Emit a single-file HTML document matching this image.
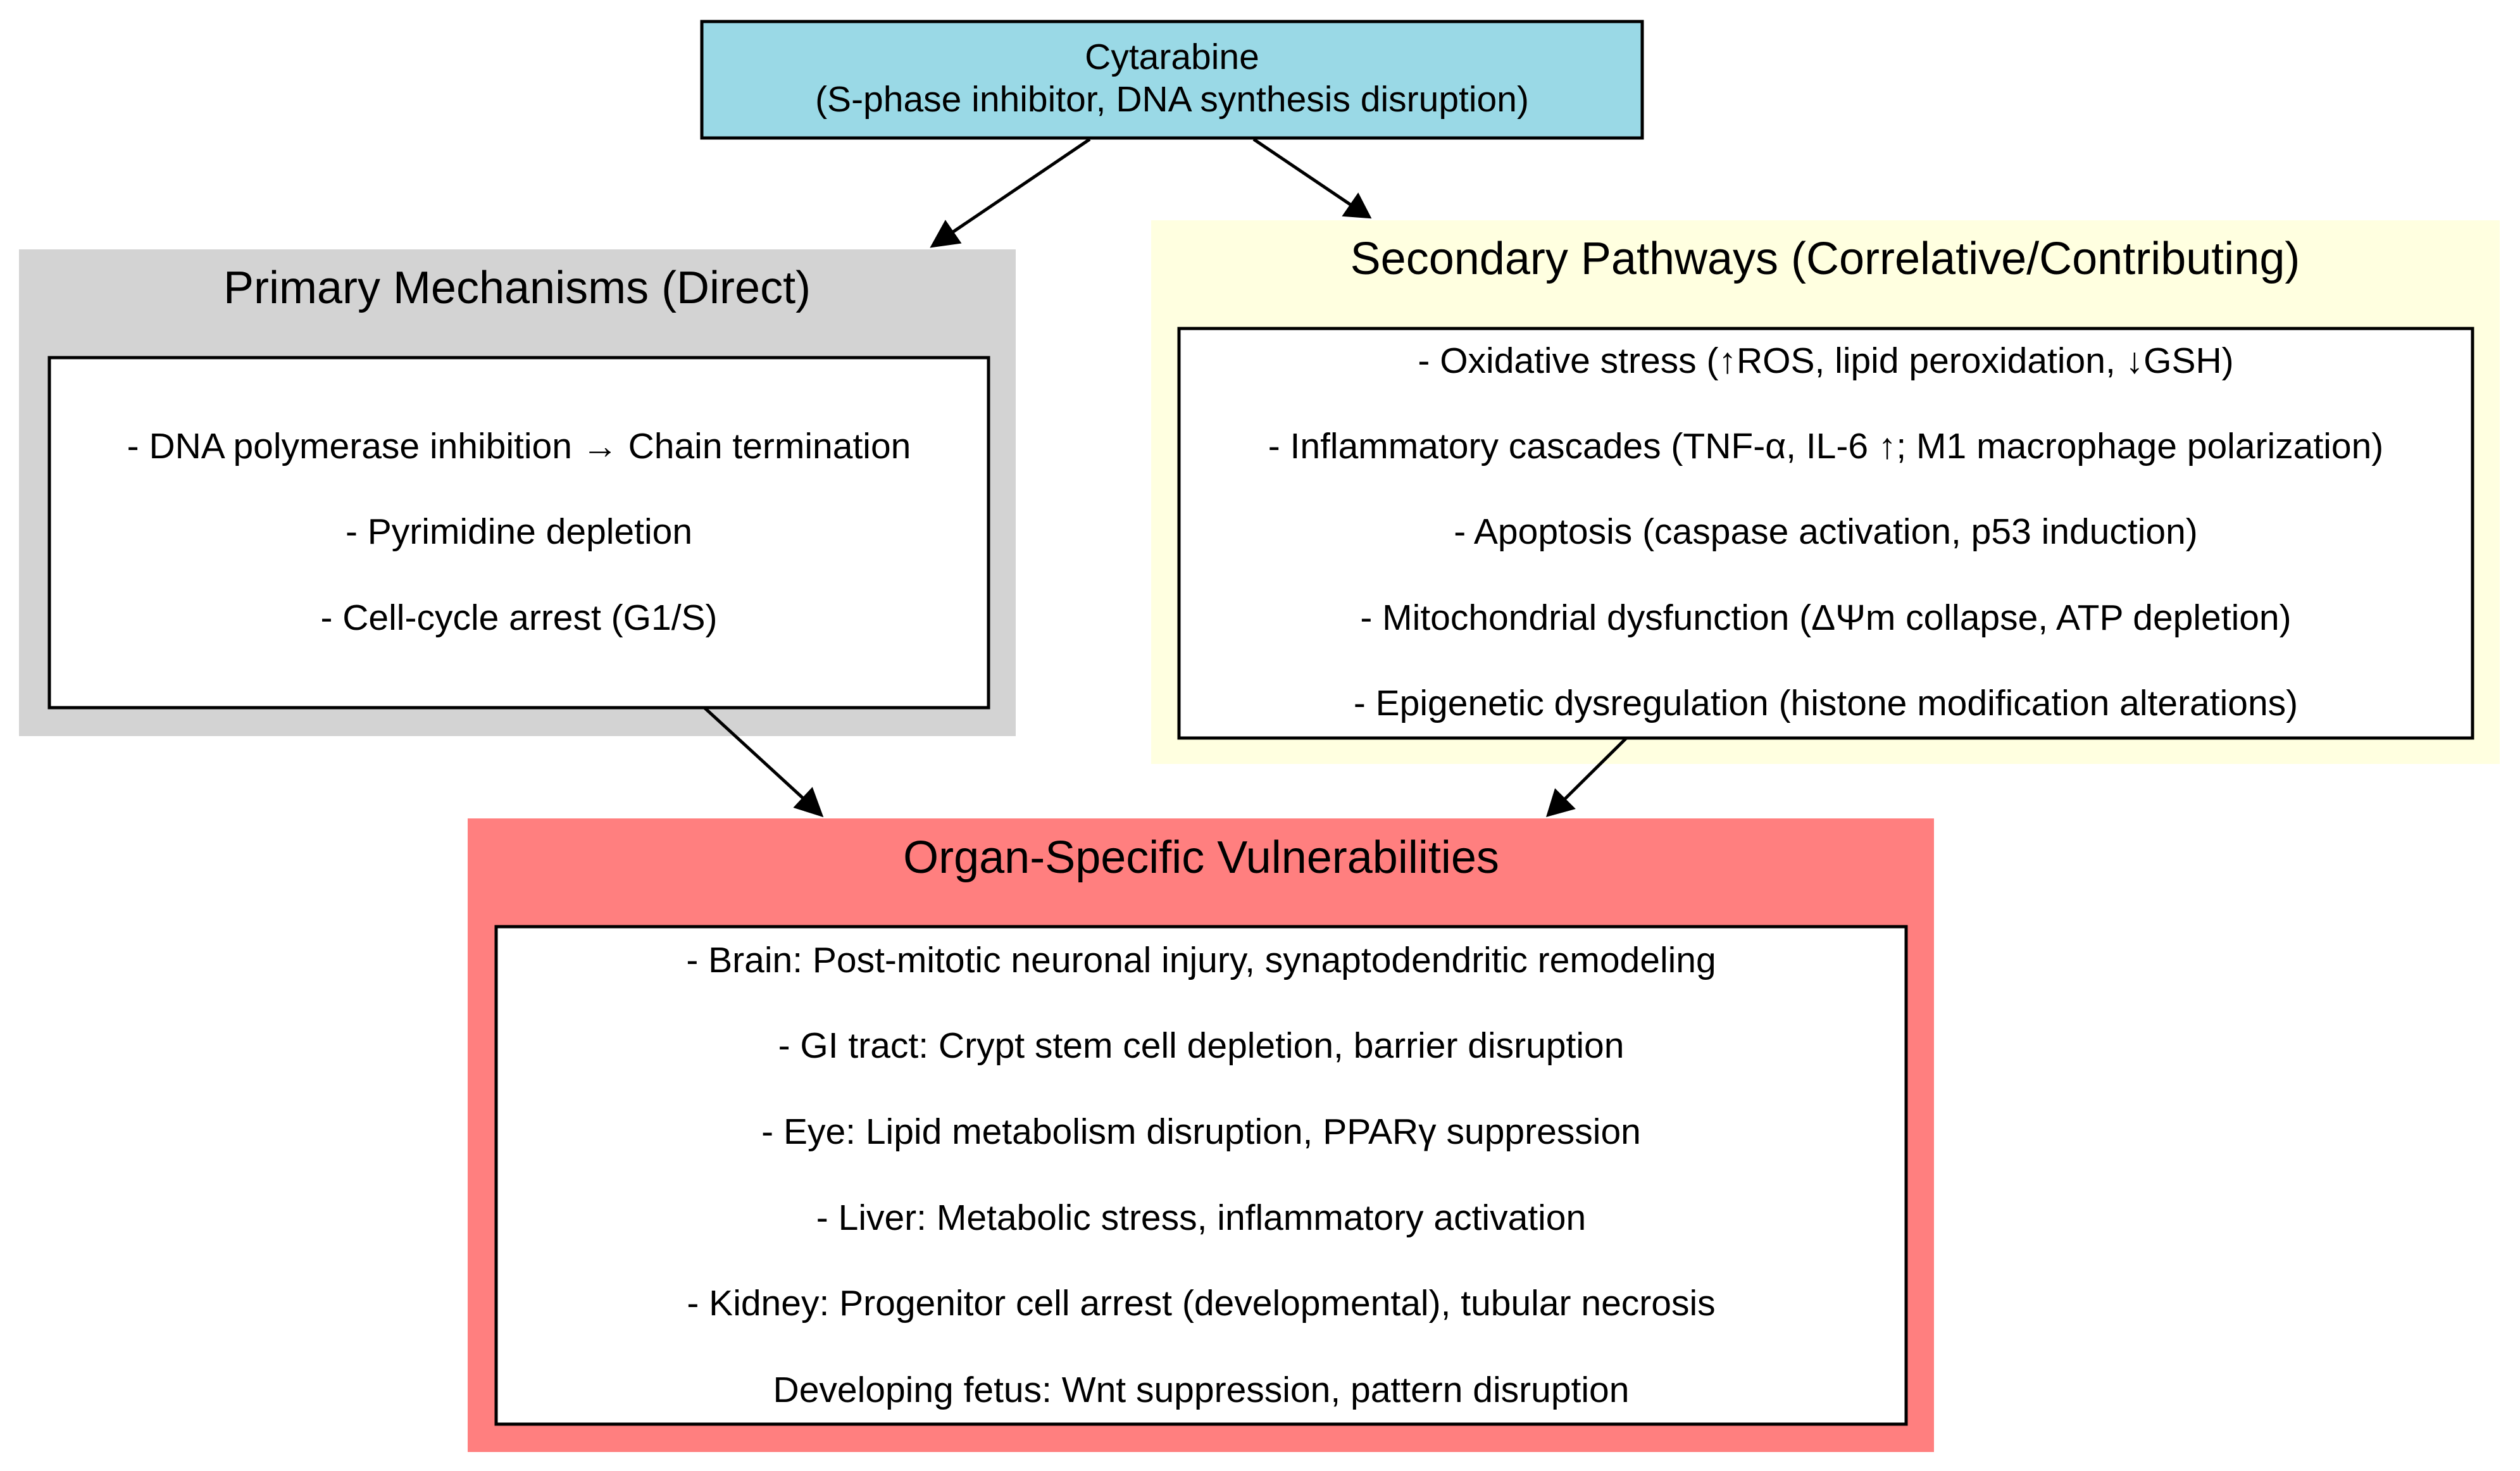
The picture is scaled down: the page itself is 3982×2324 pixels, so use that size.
<!DOCTYPE html>
<html><head><meta charset="utf-8"><style>
html,body{margin:0;padding:0;background:#fff;}
svg{display:block;}
text{font-family:"Liberation Sans",Arial,sans-serif;fill:#000;}
</style></head><body>
<svg width="3982" height="2324" viewBox="0 0 3982 2324" xmlns="http://www.w3.org/2000/svg">
<rect width="3982" height="2324" fill="#fff"/>
<rect x="30" y="394" width="1575" height="769" fill="#d3d3d3"/>
<rect x="1819" y="348" width="2131" height="859" fill="#ffffe0"/>
<rect x="739" y="1293" width="2317" height="1001" fill="#ff7f7f"/>
<rect x="1109" y="34" width="1486" height="184" fill="#9ad9e6" stroke="#000" stroke-width="5"/>
<text x="1852" y="109" font-size="57" text-anchor="middle">Cytarabine</text>
<text x="1852" y="176" font-size="57" text-anchor="middle">(S-phase inhibitor, DNA synthesis disruption)</text>
<text x="817" y="479" font-size="72" text-anchor="middle">Primary Mechanisms (Direct)</text>
<text x="2884" y="433" font-size="72" text-anchor="middle">Secondary Pathways (Correlative/Contributing)</text>
<text x="1898" y="1379" font-size="72" text-anchor="middle">Organ-Specific Vulnerabilities</text>
<rect x="78" y="565" width="1484" height="553" fill="#fff" stroke="#000" stroke-width="5"/>
<rect x="1863" y="519" width="2044" height="647" fill="#fff" stroke="#000" stroke-width="5"/>
<rect x="784" y="1464" width="2228" height="786" fill="#fff" stroke="#000" stroke-width="5"/>
<g font-size="57" text-anchor="middle">
<text x="820" y="724">- DNA polymerase inhibition → Chain termination</text>
<text x="820" y="859">- Pyrimidine depletion</text>
<text x="820" y="995">- Cell-cycle arrest (G1/S)</text>
<text x="2885" y="589">- Oxidative stress (↑ROS, lipid peroxidation, ↓GSH)</text>
<text x="2885" y="724">- Inflammatory cascades (TNF-α, IL-6 ↑; M1 macrophage polarization)</text>
<text x="2885" y="859">- Apoptosis (caspase activation, p53 induction)</text>
<text x="2885" y="995">- Mitochondrial dysfunction (ΔΨm collapse, ATP depletion)</text>
<text x="2885" y="1130">- Epigenetic dysregulation (histone modification alterations)</text>
<text x="1898" y="1536">- Brain: Post-mitotic neuronal injury, synaptodendritic remodeling</text>
<text x="1898" y="1671">- GI tract: Crypt stem cell depletion, barrier disruption</text>
<text x="1898" y="1807">- Eye: Lipid metabolism disruption, PPARγ suppression</text>
<text x="1898" y="1943">- Liver: Metabolic stress, inflammatory activation</text>
<text x="1898" y="2078">- Kidney: Progenitor cell arrest (developmental), tubular necrosis</text>
<text x="1898" y="2215">Developing fetus: Wnt suppression, pattern disruption</text>
</g>
<g stroke="#000" stroke-width="5" fill="none">
<line x1="1722" y1="220" x2="1505" y2="367"/>
<line x1="1981" y1="220" x2="2135" y2="324"/>
<line x1="1113" y1="1118" x2="1270" y2="1262"/>
<line x1="2570" y1="1166" x2="2472" y2="1263"/>
</g>
<g fill="#000" stroke="#000" stroke-width="4">
<polygon points="1473,389 1494,351 1516,383"/>
<polygon points="2164,343 2124,340 2146,308"/>
<polygon points="1298,1288 1257,1275 1283,1247"/>
<polygon points="2446,1288 2458,1249 2486,1277"/>
</g>
</svg>
</body></html>
